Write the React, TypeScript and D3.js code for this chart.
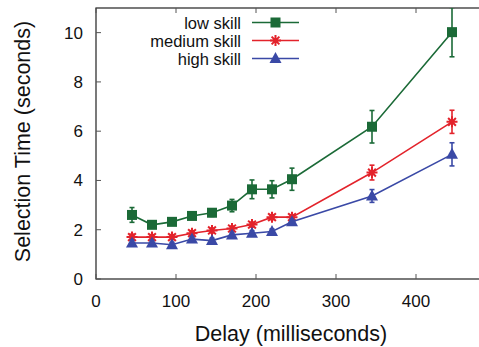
import React, { useEffect, useRef } from "react";
import * as d3 from "d3";

const delays = [45, 70, 95, 120, 145, 170, 195, 220, 245, 345, 445];
const lowSkill = [2.6, 2.2, 2.32, 2.56, 2.69, 2.98, 3.64, 3.64, 4.05, 6.18, 10.02];
const lowErr = [0.3, 0.12, 0.12, 0.12, 0.15, 0.25, 0.38, 0.35, 0.45, 0.66, 1.0];
const medSkill = [1.7, 1.7, 1.7, 1.86, 1.97, 2.05, 2.21, 2.51, 2.51, 4.32, 6.38];
const medErr = [0.12, 0.1, 0.1, 0.1, 0.1, 0.1, 0.1, 0.1, 0.1, 0.3, 0.47];
const highSkill = [1.46, 1.46, 1.39, 1.62, 1.56, 1.79, 1.86, 1.93, 2.32, 3.37, 5.06];
const highErr = [0.12, 0.1, 0.1, 0.1, 0.1, 0.1, 0.1, 0.1, 0.1, 0.26, 0.47];
const xTicks = [0, 100, 200, 300, 400];
const yTicks = [0, 2, 4, 6, 8, 10];

const series = [
  { name: "low skill", values: lowSkill, err: lowErr, color: "#1b6a37", marker: "square" },
  { name: "medium skill", values: medSkill, err: medErr, color: "#e3232b", marker: "star" },
  { name: "high skill", values: highSkill, err: highErr, color: "#3a49a6", marker: "triangle" },
];

export default function App() {
  const ref = useRef<SVGSVGElement>(null);

  useEffect(() => {
    const svg = d3.select(ref.current);
    svg.selectAll("*").remove();
    const left = 96, right = 496, top = 8, bottom = 279;
    const x = d3.scaleLinear().domain([0, 500]).range([left, right]);
    const y = d3.scaleLinear().domain([0, 11]).range([bottom, top]);
    const font = "Liberation Sans, Arial, sans-serif";

    // frame
    svg.append("rect")
      .attr("x", left).attr("y", top)
      .attr("width", right - left).attr("height", bottom - top)
      .attr("fill", "none").attr("stroke", "#222").attr("stroke-width", 1.2);

    // ticks
    xTicks.forEach(t => {
      svg.append("line").attr("x1", x(t)).attr("x2", x(t)).attr("y1", bottom).attr("y2", bottom - 5).attr("stroke", "#555");
      svg.append("line").attr("x1", x(t)).attr("x2", x(t)).attr("y1", top).attr("y2", top + 5).attr("stroke", "#555");
      svg.append("text").attr("x", x(t)).attr("y", bottom + 28)
        .attr("text-anchor", "middle").attr("font-family", font).attr("font-size", 17)
        .attr("fill", "#111").text(t);
    });
    yTicks.forEach(t => {
      svg.append("line").attr("x1", left).attr("x2", left + 5).attr("y1", y(t)).attr("y2", y(t)).attr("stroke", "#555");
      svg.append("text").attr("x", left - 13).attr("y", y(t) + 6)
        .attr("text-anchor", "end").attr("font-family", font).attr("font-size", 17)
        .attr("fill", "#111").text(t);
    });

    svg.append("text").attr("x", 291).attr("y", 341)
      .attr("text-anchor", "middle").attr("font-family", font).attr("font-size", 21.5)
      .attr("fill", "#111").text("Delay (milliseconds)");
    svg.append("text")
      .attr("transform", `translate(30,141.5) rotate(-90)`)
      .attr("text-anchor", "middle").attr("font-family", font).attr("font-size", 21.5)
      .attr("fill", "#111").text("Selection Time (seconds)");

    const clip = svg.append("defs").append("clipPath").attr("id", "plotclip");
    clip.append("rect").attr("x", left).attr("y", top).attr("width", right - left).attr("height", bottom - top);

    const drawMarker = (g: any, cx: number, cy: number, kind: string, color: string) => {
      if (kind === "square") {
        g.append("rect").attr("x", cx - 5).attr("y", cy - 5).attr("width", 10).attr("height", 10).attr("fill", color);
      } else if (kind === "triangle") {
        g.append("path").attr("d", `M${cx},${cy - 6.5}L${cx + 6},${cy + 4.5}L${cx - 6},${cy + 4.5}Z`).attr("fill", color);
      } else {
        const r = 5.5;
        const d = [0, 45, 90, 135].map(a => {
          const rad = (a * Math.PI) / 180;
          return `M${cx - r * Math.cos(rad)},${cy - r * Math.sin(rad)}L${cx + r * Math.cos(rad)},${cy + r * Math.sin(rad)}`;
        }).join("");
        g.append("path").attr("d", d).attr("stroke", color).attr("stroke-width", 2).attr("fill", "none");
      }
    };

    const line = d3.line<number>().x((_, i) => x(delays[i])).y(d => y(d));

    series.forEach(s => {
      const g = svg.append("g").attr("clip-path", "url(#plotclip)");
      g.append("path").attr("d", line(s.values)).attr("fill", "none").attr("stroke", s.color).attr("stroke-width", 1.6);
      s.values.forEach((v, i) => {
        const cx = x(delays[i]);
        const y0 = y(v - s.err[i]), y1 = y(v + s.err[i]);
        g.append("line").attr("x1", cx).attr("x2", cx).attr("y1", y0).attr("y2", y1).attr("stroke", s.color).attr("stroke-width", 1.6);
        g.append("line").attr("x1", cx - 2.5).attr("x2", cx + 2.5).attr("y1", y0).attr("y2", y0).attr("stroke", s.color).attr("stroke-width", 1.6);
        g.append("line").attr("x1", cx - 2.5).attr("x2", cx + 2.5).attr("y1", y1).attr("y2", y1).attr("stroke", s.color).attr("stroke-width", 1.6);
        drawMarker(g, cx, y(v), s.marker, s.color);
      });
    });

    // legend
    const legendRows = [22.5, 40.5, 58.5];
    series.forEach((s, i) => {
      const ly = legendRows[i];
      svg.append("text").attr("x", 241).attr("y", ly + 6)
        .attr("text-anchor", "end").attr("font-family", font).attr("font-size", 16.5)
        .attr("fill", "#111").text(s.name);
      svg.append("line").attr("x1", 252).attr("x2", 299).attr("y1", ly).attr("y2", ly)
        .attr("stroke", s.color).attr("stroke-width", 1.6);
      drawMarker(svg, 275.5, ly, s.marker, s.color);
    });
  }, []);

  return (
    <svg ref={ref} width={479} height={347}
      style={{ position: "absolute", left: 0, top: 0, background: "#fff" }} />
  );
}
